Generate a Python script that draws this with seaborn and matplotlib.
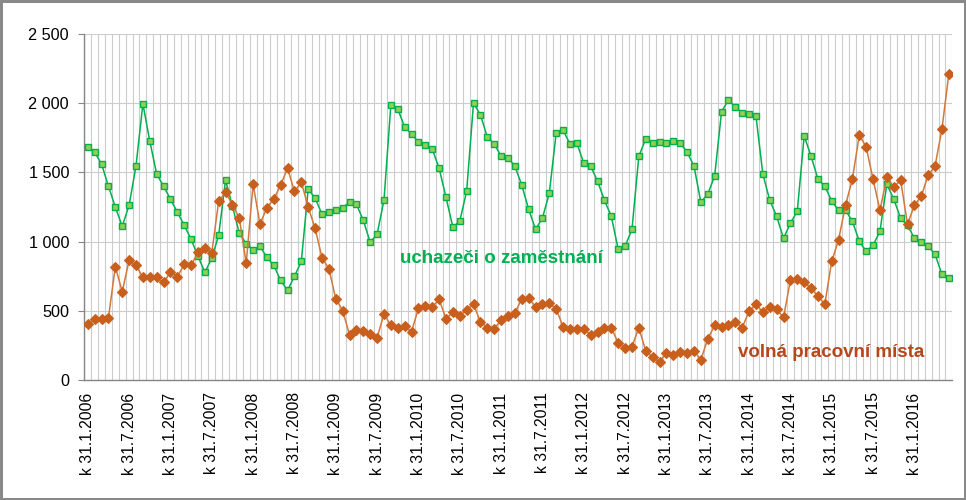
import matplotlib
matplotlib.use("Agg")
import matplotlib.pyplot as plt
import seaborn as sns
import pandas as pd
import numpy as np
from matplotlib.patches import Rectangle
from matplotlib.ticker import FixedLocator

# ---------------- data ----------------
uchazeci = [1683, 1647, 1560, 1401, 1249, 1111, 1263, 1546, 1995, 1727, 1488, 1401,
            1307, 1212, 1118, 1017, 894, 778, 879, 1046, 1444, 1256, 1060, 985,
            942, 966, 886, 828, 720, 647, 749, 857, 1379, 1314, 1198, 1212,
            1227, 1244, 1285, 1270, 1154, 995, 1053, 1299, 1988, 1959, 1828, 1777,
            1720, 1698, 1669, 1531, 1321, 1104, 1147, 1364, 2002, 1915, 1756, 1705,
            1618, 1604, 1546, 1408, 1234, 1089, 1169, 1350, 1785, 1806, 1705, 1712,
            1567, 1546, 1437, 1299, 1183, 944, 966, 1089, 1618, 1741, 1712, 1720,
            1712, 1727, 1712, 1647, 1546, 1285, 1343, 1473, 1937, 2024, 1973, 1930,
            1922, 1908, 1488, 1299, 1183, 1024, 1133, 1220, 1763, 1618, 1451, 1401,
            1292, 1227, 1227, 1147, 1002, 930, 973, 1075, 1415, 1307, 1169, 1118,
            1024, 995, 966, 908, 763, 734]

volna_mista = [406, 442, 442, 449, 819, 638, 865, 828, 741, 746, 741, 705,
               782, 746, 836, 828, 922, 956, 920, 1290, 1355, 1268, 1169, 843,
               1415, 1125, 1246, 1307, 1408, 1531, 1362, 1430, 1249, 1096, 884, 804,
               587, 502, 326, 362, 357, 333, 304, 478, 394, 377, 391, 350,
               517, 536, 529, 582, 444, 488, 464, 507, 548, 420, 379, 367,
               437, 464, 483, 587, 589, 531, 546, 553, 514, 384, 369, 365,
               369, 326, 350, 379, 377, 268, 232, 242, 377, 210, 167, 130,
               198, 181, 203, 196, 213, 145, 297, 394, 384, 398, 418, 379,
               495, 551, 488, 524, 510, 452, 720, 727, 705, 662, 604, 551,
               857, 1014, 1263, 1451, 1770, 1683, 1451, 1227, 1466, 1393, 1444, 1125,
               1263, 1328, 1480, 1546, 1814, 2212]

tick_labels = ["k 31.1.2006", "k 31.7.2006", "k 31.1.2007", "k 31.7.2007",
               "k 31.1.2008", "k 31.7.2008", "k 31.1.2009", "k 31.7.2009",
               "k 31.1.2010", "k 31.7.2010", "k 31.1.2011", "k 31.7.2011",
               "k 31.1.2012", "k 31.7.2012", "k 31.1.2013", "k 31.7.2013",
               "k 31.1.2014", "k 31.7.2014", "k 31.1.2015", "k 31.7.2015",
               "k 31.1.2016"]

y_ticks = [0, 500, 1000, 1500, 2000, 2500]
y_tick_labels = ["0", "500", "1 000", "1 500", "2 000", "2 500"]

label_uchazeci = "uchazeči o zaměstnání"
label_mista = "volná pracovní místa"

# ---------------- style ----------------
sns.set_theme(style="white")
plt.rcParams['font.family'] = ['Liberation Sans', 'DejaVu Sans']

GREEN = "#00B050"
GREEN_FACE = "#92D050"
ORANGE = "#C95F1C"
ORANGE_LINE = "#D4773A"
ORANGE_TEXT = "#B7471B"
GRID = "#CCCCCC"
AXIS = "#868686"

fig = plt.figure(figsize=(9.66, 5.0), dpi=100)
ax = fig.add_axes([0.0873, 0.24, 0.8985, 0.692])

n = len(uchazeci)
df = pd.DataFrame({"idx": np.arange(n), "uchazeci": uchazeci, "mista": volna_mista})

sns.lineplot(data=df, x="idx", y="uchazeci", ax=ax, color=GREEN, lw=1.1,
             marker="s", markersize=4.5, markerfacecolor=GREEN_FACE,
             markeredgecolor=GREEN, markeredgewidth=1.0, zorder=3)
sns.lineplot(data=df, x="idx", y="mista", ax=ax, color=ORANGE_LINE, lw=1.1,
             marker="D", markersize=4.6, markerfacecolor=ORANGE,
             markeredgecolor=ORANGE, markeredgewidth=0.8, zorder=4)

ax.set_xlim(-0.5, n - 0.5)
ax.set_ylim(0, 2500)

# x axis: labels every 6 months at category centres, ticks/grid at boundaries
major_pos = list(range(0, 6 * len(tick_labels), 6))
ax.xaxis.set_major_locator(FixedLocator(major_pos))
ax.set_xticklabels(tick_labels, rotation=90, fontsize=11.3, color="#000000")
ax.xaxis.set_minor_locator(FixedLocator(np.arange(-0.5, n, 1.0)))
ax.tick_params(axis="x", which="major", length=0, pad=9.0)
ax.tick_params(axis="x", which="minor", length=3, width=0.8, color=AXIS, direction="out")
ax.grid(True, axis="x", which="minor", color=GRID, lw=0.8)
ax.grid(False, axis="x", which="major")

ax.set_yticks(y_ticks)
ax.set_yticklabels(y_tick_labels, fontsize=11.7, color="#000000")
ax.tick_params(axis="y", which="major", length=4.5, width=0.8, color=AXIS,
               direction="out", pad=6.5, left=True)
ax.grid(True, axis="y", which="major", color=GRID, lw=0.8)

ax.set_xlabel("")
ax.set_ylabel("")
for s in ["top", "right"]:
    ax.spines[s].set_visible(False)
for s in ["left", "bottom"]:
    ax.spines[s].set_color(AXIS)
    ax.spines[s].set_linewidth(1.0)
ax.set_axisbelow(True)

ax.text(60, 848, label_uchazeci, ha="center", va="baseline", color=GREEN,
        fontsize=13.5, fontweight="bold")
ax.text(94.4, 167, label_mista, ha="left", va="baseline", color=ORANGE_TEXT,
        fontsize=13.5, fontweight="bold")

fig.patches.append(Rectangle((0, 0), 1, 1, transform=fig.transFigure, fill=False,
                             edgecolor="#898989", lw=3.6))

fig.savefig("out.png", dpi=100)
